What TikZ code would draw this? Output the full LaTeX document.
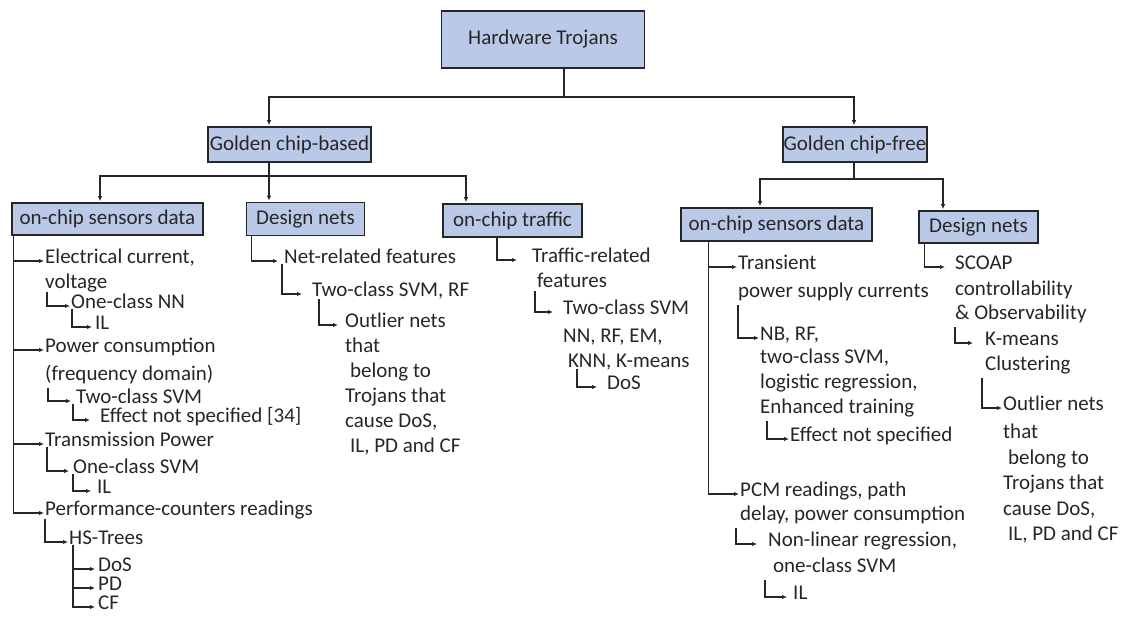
\documentclass[tikz,border=0pt]{standalone}
\usepackage{fontspec}
\setmainfont{Carlito}
\usetikzlibrary{arrows.meta}

\definecolor{boxBlue}{RGB}{187,201,232}
\newcommand{\treeFont}{\fontsize{21}{25}\selectfont}
\newcommand{\padSpace}{\hspace*{0.23em}}
\newcommand{\stackLines}[1]{\begin{tabular}[t]{@{}l@{}}#1\end{tabular}}

\begin{document}
\begin{tikzpicture}[x=1pt,y=-1pt,>={Latex[length=5pt,width=4.5pt]}]

% --- Styles ---
\tikzset{
    classBox/.style={
        draw=black!85,
        line width=1.6pt,
        fill=boxBlue,
        text=black!85,
        font=\treeFont,
        inner sep=0pt,
        minimum height=33pt
    },
    treeLink/.style={
        draw=black!85,
        line width=1.3pt
    },
    treeArrow/.style={
        treeLink,
        ->,
        shorten >=1pt
    },
    leafText/.style={
        anchor=mid west,
        inner sep=0pt,
        text=black!85,
        font=\treeFont
    }
}

\useasboundingbox (0,0) rectangle (1122,619);

% =========================================================
% Boxes
% =========================================================

\node[classBox, minimum width=203pt, minimum height=57pt] (root) at (543,39.5) {Hardware Trojans};

\node[classBox, minimum width=163pt, minimum height=35pt] (chipBased) at (289.5,144.5) {Golden chip-based};
\node[classBox, minimum width=144pt, minimum height=35pt] (chipFree) at (855,144.5) {Golden chip-free};

\node[classBox, minimum width=191pt, minimum height=32pt] (sensorsA) at (107.5,219) {on-chip sensors data};
\node[classBox, minimum width=118pt] (netsA) at (305.5,219) {Design nets};
\node[classBox, minimum width=139pt] (traffic) at (512.5,220.5) {on-chip traffic};
\node[classBox, minimum width=191pt] (sensorsB) at (776.5,224.5) {on-chip sensors data};
\node[classBox, minimum width=119pt, minimum height=32pt] (netsB) at (978.5,227) {Design nets};

% Splitting points
\coordinate (rootSplit) at (564,97);
\coordinate (basedSplit) at (269,176);
\coordinate (freeSplit) at (854,179);

\draw[treeLink] (rootSplit |- root.south) -- (rootSplit);
\draw[treeArrow] (rootSplit) -| (basedSplit |- chipBased.north);
\draw[treeArrow] (rootSplit) -| (freeSplit |- chipFree.north);

\draw[treeLink] (basedSplit |- chipBased.south) -- (basedSplit);
\draw[treeArrow] (basedSplit) -| ([xshift=-7.5pt]sensorsA.north);
\draw[treeArrow] (basedSplit) -- (basedSplit |- netsA.north);
\draw[treeArrow] (basedSplit) -| ([xshift=-46.5pt]traffic.north);

\draw[treeLink] (freeSplit |- chipFree.south) -- (freeSplit);
\draw[treeArrow] (freeSplit) -| ([xshift=-16.5pt]sensorsB.north);
\draw[treeArrow] (freeSplit) -| ([xshift=-35.5pt]netsB.north);

% =========================================================
% Golden chip-based: on-chip sensors data
% =========================================================

\node[leafText] (elecCurrent) at (45,261) {\stackLines{Electrical current,\\voltage}};
\node[leafText] (oneClassNN) at (71,306) {One-class NN};
\node[leafText] (leakA) at (95,327) {IL};
\node[leafText] (powerCons) at (45,350) {\stackLines{Power consumption\\[3pt](frequency domain)}};
\node[leafText] (twoClassA) at (76,401) {Two-class SVM};
\node[leafText] (effectA) at (100,420) {Effect not specified [34]};
\node[leafText] (transPower) at (45,444) {Transmission Power};
\node[leafText] (oneClassSVM) at (73,471) {One-class SVM};
\node[leafText] (leakB) at (97,491) {IL};
\node[leafText] (perfCounters) at (45,513) {Performance-counters readings};
\node[leafText] (hsTrees) at (69,542) {HS-Trees};
\node[leafText] (dosA) at (98,569) {DoS};
\node[leafText] (pdA) at (98,588) {PD};
\node[leafText] (cfA) at (98,607) {CF};

% Stam met zijtakken
\draw[treeArrow] ([xshift=2pt]sensorsA.south west) |- (elecCurrent.mid west);
\draw[treeArrow] ([xshift=2pt]sensorsA.south west) |- (powerCons.mid west);
\draw[treeArrow] ([xshift=2pt]sensorsA.south west) |- (transPower.mid west);
\draw[treeArrow] ([xshift=2pt]sensorsA.south west) |- (perfCounters.mid west);

\draw[treeArrow] ([xshift=2pt,yshift=4pt]elecCurrent.south west) |- (oneClassNN.mid west);
\draw[treeArrow, shorten >=3pt] ([xshift=1pt]oneClassNN.south west) |- (leakA.mid west);
\draw[treeArrow, shorten >=5pt] ([xshift=3pt]powerCons.south west) |- (twoClassA.mid west);
\draw[treeArrow, shorten >=10pt] ([xshift=-3pt]twoClassA.south west) |- (effectA.mid west);
\draw[treeArrow, shorten >=4pt] ([xshift=2pt]transPower.south west) |- (oneClassSVM.mid west);
\draw[treeArrow, shorten >=6pt] (oneClassSVM.south west) |- (leakB.mid west);
\draw[treeArrow] (perfCounters.south west) |- (hsTrees.mid west);
\draw[treeArrow, shorten >=3pt] ([xshift=4pt]hsTrees.south west) |- (dosA.mid west);
\draw[treeArrow, shorten >=3pt] ([xshift=4pt]hsTrees.south west) |- (pdA.mid west);
\draw[treeArrow, shorten >=3pt] ([xshift=4pt]hsTrees.south west) |- (cfA.mid west);

% =========================================================
% Golden chip-based: design nets and on-chip traffic
% =========================================================

\node[leafText] (netRelated) at (284,261) {Net-related features};
\node[leafText] (twoClassRF) at (312,294) {Two-class SVM, RF};
\node[leafText] (outlierA) at (345,325) {\stackLines{Outlier nets\\that\\\padSpace belong to\\Trojans that\\cause DoS,\\\padSpace IL, PD and CF}};

\draw[treeArrow, shorten >=6pt] ([xshift=6pt]netsA.south west) |- (netRelated.mid west);
\draw[treeArrow, shorten >=10pt] ([xshift=-2pt]netRelated.south west) |- (twoClassRF.mid west);
\draw[treeArrow, shorten >=7pt] ([xshift=7pt]twoClassRF.south west) |- (outlierA.mid west);

\node[leafText] (trafficFeat) at (532,260) {\stackLines{Traffic-related\\\padSpace features}};
\node[leafText] (twoClassB) at (563,312) {\stackLines{Two-class SVM\\[3pt]NN, RF, EM,\\\padSpace KNN, K-means}};
\node[leafText] (dosB) at (607,387) {DoS};

\draw[treeArrow, shorten >=15pt] ([xshift=-15.5pt]traffic.south) |- (trafficFeat.mid west);
\draw[treeArrow, shorten >=10pt] ([xshift=3pt,yshift=4pt]trafficFeat.south west) |- (twoClassB.mid west);
\draw[treeArrow, shorten >=10pt] ([xshift=14pt,yshift=6pt]twoClassB.south west) |- (dosB.mid west);

% =========================================================
% Golden chip-free
% =========================================================

\node[leafText] (transient) at (738,267) {\stackLines{Transient\\[3pt]power supply currents}};
\node[leafText] (nbRF) at (760,338) {\stackLines{NB, RF,\\[-2pt]two-class SVM,\\logistic regression,\\Enhanced training}};
\node[leafText] (effectB) at (790,439) {Effect not specified};
\node[leafText] (pcmReadings) at (740,494) {\stackLines{PCM readings, path\\[-1pt]delay, power consumption}};
\node[leafText] (nonLinear) at (768,544) {\stackLines{Non-linear regression,\\[1pt]\padSpace one-class SVM}};
\node[leafText] (leakC) at (793,597) {IL};

\draw[treeArrow] ([xshift=28pt]sensorsB.south west) |- (transient.mid west);
\draw[treeArrow] ([xshift=28pt]sensorsB.south west) |- (pcmReadings.mid west);
\draw[treeArrow] (transient.south west) |- (nbRF.mid west);
\draw[treeArrow] ([xshift=7pt]nbRF.south west) |- (effectB.mid west);
\draw[treeArrow, shorten >=11pt] ([xshift=-4pt]pcmReadings.south west) |- (nonLinear.mid west);
\draw[treeArrow, shorten >=6pt] ([xshift=-3pt]nonLinear.south west) |- (leakC.mid west);

\node[leafText] (scoap) at (955,267) {\stackLines{SCOAP\\[1pt]controllability\\[-1pt]\& Observability}};
\node[leafText] (kMeans) at (985,343) {\stackLines{K-means\\Clustering}};
\node[leafText] (outlierB) at (1003,408) {\stackLines{Outlier nets\\[3pt]that\\[1pt]\padSpace belong to\\Trojans that\\[1pt]cause DoS,\\\padSpace IL, PD and CF}};

\draw[treeArrow, shorten >=10pt] ([xshift=6pt]netsB.south west) |- (scoap.mid west);
\draw[treeArrow, shorten >=12pt] (scoap.south west) |- (kMeans.mid west);
\draw[treeArrow] ([xshift=-3pt]kMeans.south west) |- (outlierB.mid west);

\end{tikzpicture}
\end{document}
